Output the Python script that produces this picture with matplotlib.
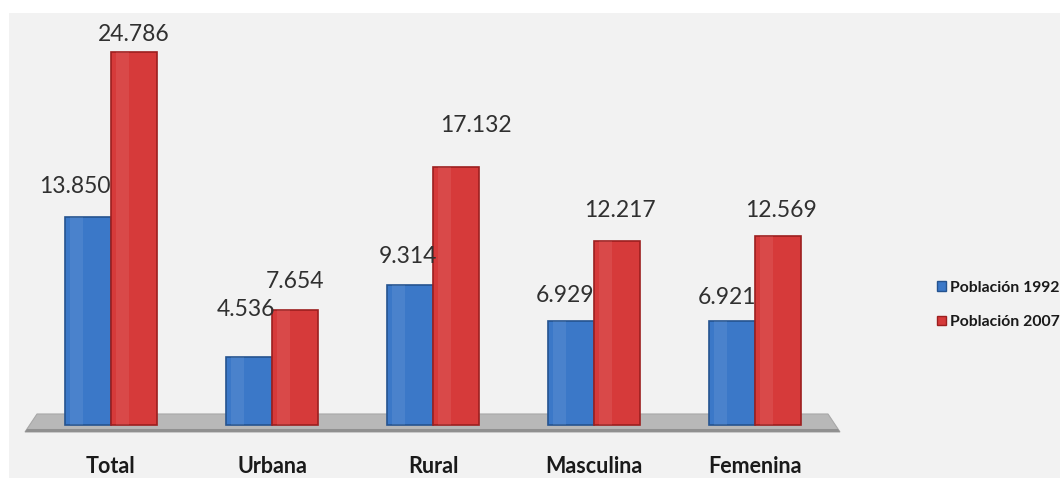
import matplotlib.pyplot as plt
from matplotlib.patches import Polygon, Rectangle, Patch

# data
categories = ['Total', 'Urbana', 'Rural', 'Masculina', 'Femenina']
pob_1992 = [13.850, 4.536, 9.314, 6.929, 6.921]
pob_2007 = [24.786, 7.654, 17.132, 12.217, 12.569]
series_names = ['Población 1992', 'Población 2007']

# label offsets in pixels (dx, dy) - they are not placed uniformly in the original
off_1992 = [(-13, 20), (-3, 37), (-2, 18), (-6, 15), (-5, 13)]
off_2007 = [(0, 7), (0, 18), (20, 31), (3, 20), (3, 15)]

blue = '#3b78c8'
blue_edge = '#25538f'
red = '#d63a3a'
red_edge = '#9c1f1f'
bg = '#f2f2f2'

plt.rcParams['font.family'] = ['Lato', 'DejaVu Sans']

fig = plt.figure(figsize=(10.6, 4.781), dpi=100)
fig.patch.set_facecolor('white')
fig.add_artist(Rectangle((9 / 1060, -0.02), 1, 1.02 - 13 / 478, transform=fig.transFigure,
                         facecolor=bg, edgecolor='none', zorder=0))

ax = fig.add_axes([0, 0, 1, 1])
ax.set_facecolor('none')
ax.axis('off')

px_x = 161.0   # pixels per category
px_y = 15.05   # pixels per unit
x0_px = 111.0
base_px = 425.0
ax.set_xlim(-x0_px / px_x, (1060 - x0_px) / px_x)
ax.set_ylim(-(478 - base_px) / px_y, base_px / px_y)

w = 46 / px_x
x = list(range(len(categories)))

# floor
fx = lambda p: (p - x0_px) / px_x
fy = lambda p: (base_px - p) / px_y
floor = Polygon([(fx(25), fy(432)), (fx(840), fy(432)), (fx(828), fy(414)), (fx(37), fy(414))],
                closed=True, facecolor='#b8b8b8', edgecolor='#a8a8a8', lw=0.8, zorder=1)
ax.add_patch(floor)
ax.add_patch(Polygon([(fx(25), fy(432)), (fx(840), fy(432)), (fx(838), fy(429)), (fx(27), fy(429))],
                     closed=True, facecolor='#909090', edgecolor='none', zorder=1))

b1 = ax.bar([i - w / 2 for i in x], pob_1992, width=w, color=blue, edgecolor=blue_edge,
            linewidth=1.2, zorder=3)
b2 = ax.bar([i + w / 2 for i in x], pob_2007, width=w, color=red, edgecolor=red_edge,
            linewidth=1.2, zorder=3)

# little highlight strip on the bars
ax.bar([i - w / 2 - w * 0.25 for i in x], pob_1992, width=w * 0.3, color='white', alpha=0.08,
       zorder=4)
ax.bar([i + w / 2 - w * 0.25 for i in x], pob_2007, width=w * 0.3, color='white', alpha=0.08,
       zorder=4)

def fmt(v):
    return f'{v:.3f}'

for i in x:
    dx, dy = off_1992[i]
    ax.annotate(fmt(pob_1992[i]), (i - w / 2, pob_1992[i]), xytext=(dx * 0.72, dy * 0.72),
                textcoords='offset points', ha='center', va='bottom', fontsize=16.5,
                color='#303030', zorder=5)
    dx, dy = off_2007[i]
    ax.annotate(fmt(pob_2007[i]), (i + w / 2, pob_2007[i]), xytext=(dx * 0.72, dy * 0.72),
                textcoords='offset points', ha='center', va='bottom', fontsize=16.5,
                color='#303030', zorder=5)

for i, c in enumerate(categories):
    ax.text(i, fy(466), c, ha='center', va='center', fontsize=15.5, fontweight='bold',
            color='#1a1a1a')

handles = [Patch(facecolor=blue, edgecolor=blue_edge), Patch(facecolor=red, edgecolor=red_edge)]
fig.legend(handles, series_names, loc='center left', bbox_to_anchor=(926 / 1060, 1 - 305 / 478),
           frameon=False, prop={'weight': 'bold', 'size': 11.3}, handlelength=0.55,
           handleheight=0.55, handletextpad=0.3, labelspacing=1.3, labelcolor='#1a1a1a',
           borderpad=0.2)

fig.savefig('out.png', dpi=100, facecolor=fig.get_facecolor())
